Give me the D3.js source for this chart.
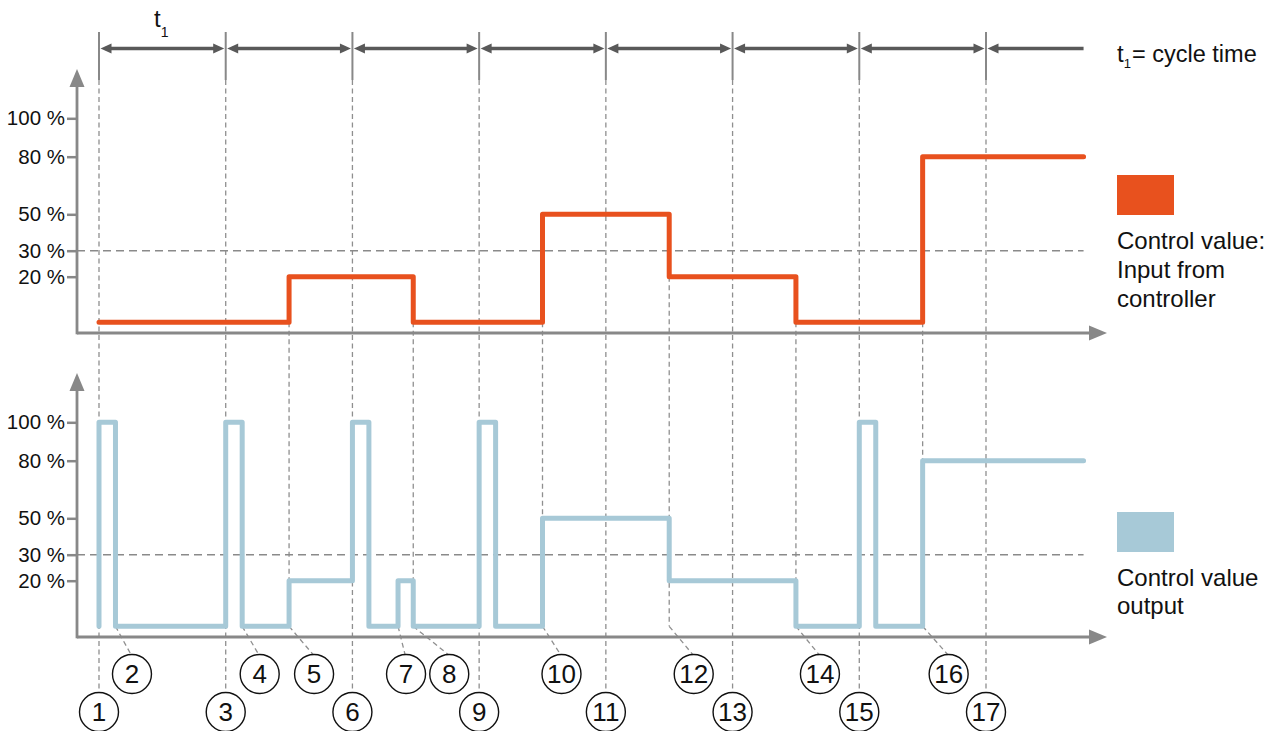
<!DOCTYPE html>
<html><head><meta charset="utf-8">
<script src="https://cdn.jsdelivr.net/npm/d3@7"></script>
<style>
body{margin:0;background:#fff}
svg{display:block}
text{font-family:"Liberation Sans",Arial,Helvetica,sans-serif;fill:#111}
</style>
</head><body>
<svg id="c" width="1274" height="731"></svg>
<script>
// ---------- data ----------
const cycles = [0, 1, 2, 3, 4, 5, 6, 7];
const tEnd = 7.77;
const controlT = [0, 1.5, 2.48, 3.5, 4.5, 5.5, 6.5, 7.77];
const controlV = [0, 20, 0, 50, 20, 0, 80, 80];
const outputT = [0, 0, 0.13, 1, 1.13, 1.5, 2, 2.13, 2.36, 2.48, 3, 3.13, 3.5, 4.5, 5.5, 6, 6.13, 6.5, 7.77];
const outputV = [0, 100, 0, 100, 0, 20, 100, 0, 20, 0, 100, 0, 50, 20, 0, 100, 0, 80, 80];
const yTicks = [20, 30, 50, 80, 100];
const thresholdV = 30;
const eventNum = [1, 2, 3, 4, 5, 6, 7, 8, 9, 10, 11, 12, 13, 14, 15, 16, 17];
const eventT = [0, 0.13, 1, 1.13, 1.5, 2, 2.36, 2.48, 3, 3.5, 4, 4.5, 5, 5.5, 6, 6.5, 7];
const eventRow = [2, 1, 2, 1, 1, 2, 1, 1, 2, 1, 2, 1, 2, 1, 2, 1, 2];
const legendControl = ["Control value:", "Input from", "controller"];
const legendOutput = ["Control value", "output"];
const cycleLabel = "t";
const cycleSub = "1";
const cycleText = "= cycle time";

// ---------- layout ----------
const ORANGE = "#E8511E", BLUE = "#A7C9D7", AXIS = "#888888", DARK = "#595959";
const svg = d3.select("#c");
const x = d3.scaleLinear().domain([0, 7]).range([99, 986]);
const yUp = d3.scaleLinear().domain([0, 20, 30, 50, 80, 100])
  .range([322.3, 276.7, 250.7, 214.3, 156.7, 118.3]);
const lowOffset = 304;
const yLo = d3.scaleLinear().domain(yUp.domain()).range(yUp.range().map(r => r + lowOffset));
const axisX = 77, upAxisY = 333, loAxisY = 637, arrowTipX = 1107;
const rowY = {1: 674, 2: 712}, R = 19.5;
const labelShift = [0, 16.5, 0, 17.5, 25, 0, 8, 36, 0, 19, 0, 24.5, 0, 24, 0, 26, 0];

// ---------- dashed guides ----------
const guides = svg.append("g").attr("stroke", "#8f8f8f").attr("stroke-width", 1.3)
  .attr("stroke-dasharray", "5,3.5").attr("fill", "none");
guides.selectAll("line.cyc").data(cycles).join("line").attr("class", "cyc")
  .attr("x1", d => x(d)).attr("x2", d => x(d))
  .attr("y1", 80).attr("y2", rowY[2] - R);
const changes = controlT.slice(1, -1).map((t, i) => ({t, lo: Math.min(controlV[i], controlV[i + 1])}));
guides.selectAll("line.chg").data(changes).join("line").attr("class", "chg")
  .attr("x1", d => x(d.t)).attr("x2", d => x(d.t))
  .attr("y1", d => yUp(d.lo)).attr("y2", yLo(0));
const events = eventNum.map((n, i) => ({n, t: eventT[i], row: eventRow[i], shift: labelShift[i]}));
guides.selectAll("line.diag").data(events.filter(e => e.row === 1)).join("line").attr("class", "diag")
  .attr("x1", d => x(d.t)).attr("y1", yLo(0))
  .attr("x2", d => x(d.t) + d.shift - 1).attr("y2", d => rowY[1] - R);

[yUp, yLo].forEach(ys => {
  svg.append("line").attr("x1", axisX).attr("x2", x(tEnd))
    .attr("y1", ys(thresholdV)).attr("y2", ys(thresholdV))
    .attr("stroke", "#8a8a8a").attr("stroke-width", 1.5).attr("stroke-dasharray", "8,5");
});

// ---------- axes ----------
function drawAxes(ys, baseY, tipY) {
  const g = svg.append("g").attr("transform", `translate(${axisX},0)`)
    .call(d3.axisLeft(ys).tickValues(yTicks).tickFormat(d => d + " %").tickSize(10).tickPadding(2));
  g.select(".domain").remove();
  g.selectAll(".tick line").attr("stroke", AXIS).attr("stroke-width", 2.5);
  g.selectAll(".tick text").attr("font-size", 20.5).attr("fill", "#111")
    .attr("font-family", '"Liberation Sans",Arial,sans-serif');
  svg.append("line").attr("x1", axisX).attr("x2", axisX).attr("y1", baseY + 1.3).attr("y2", tipY + 15)
    .attr("stroke", AXIS).attr("stroke-width", 2.8);
  svg.append("path").attr("d", `M${axisX},${tipY}L${axisX - 7.5},${tipY + 18}L${axisX + 7.5},${tipY + 18}Z`).attr("fill", AXIS);
  svg.append("line").attr("x1", axisX).attr("x2", arrowTipX - 15).attr("y1", baseY).attr("y2", baseY)
    .attr("stroke", AXIS).attr("stroke-width", 2.8);
  svg.append("path").attr("d", `M${arrowTipX},${baseY}L${arrowTipX - 18},${baseY - 7.5}L${arrowTipX - 18},${baseY + 7.5}Z`).attr("fill", AXIS);
}
drawAxes(yUp, upAxisY, 69);
drawAxes(yLo, loAxisY, 373);

// ---------- signals ----------
const ctrlData = controlT.map((t, i) => [t, controlV[i]]);
const outData = outputT.map((t, i) => [t, outputV[i]]);
svg.append("path").datum(outData)
  .attr("d", d3.line().x(d => x(d[0])).y(d => yLo(d[1])).curve(d3.curveStepAfter))
  .attr("fill", "none").attr("stroke", BLUE).attr("stroke-width", 5)
  .attr("stroke-linecap", "round").attr("stroke-linejoin", "round");
svg.append("path").datum(ctrlData)
  .attr("d", d3.line().x(d => x(d[0])).y(d => yUp(d[1])).curve(d3.curveStepAfter))
  .attr("fill", "none").attr("stroke", ORANGE).attr("stroke-width", 5)
  .attr("stroke-linecap", "round").attr("stroke-linejoin", "round");

// ---------- cycle-time arrows ----------
svg.selectAll("line.tick0").data(cycles).join("line").attr("class", "tick0")
  .attr("x1", d => x(d)).attr("x2", d => x(d)).attr("y1", 32).attr("y2", 80)
  .attr("stroke", AXIS).attr("stroke-width", 2);
const arrowY = 48.5, ah = 11, aw = 5;
const segs = cycles.slice(0, -1).map(c => [x(c) + 1.5, x(c + 1) - 1.5]);
segs.forEach(([a, b]) => {
  svg.append("line").attr("x1", a + 5).attr("x2", b - 5).attr("y1", arrowY).attr("y2", arrowY)
    .attr("stroke", DARK).attr("stroke-width", 3.5);
  svg.append("path").attr("d", `M${a},${arrowY}L${a + ah},${arrowY - aw}L${a + ah},${arrowY + aw}Z`).attr("fill", DARK);
  svg.append("path").attr("d", `M${b},${arrowY}L${b - ah},${arrowY - aw}L${b - ah},${arrowY + aw}Z`).attr("fill", DARK);
});
{
  const a = x(cycles[cycles.length - 1]) + 1.5;
  svg.append("line").attr("x1", a + 5).attr("x2", x(tEnd)).attr("y1", arrowY).attr("y2", arrowY)
    .attr("stroke", DARK).attr("stroke-width", 3.5);
  svg.append("path").attr("d", `M${a},${arrowY}L${a + ah},${arrowY - aw}L${a + ah},${arrowY + aw}Z`).attr("fill", DARK);
}
const tl = svg.append("text").attr("x", 154).attr("y", 27).attr("font-size", 24);
tl.append("tspan").text(cycleLabel);
tl.append("tspan").attr("font-size", 14).attr("dy", 10).text(cycleSub);

const tr = svg.append("text").attr("x", 1117).attr("y", 62).attr("font-size", 24);
tr.append("tspan").text(cycleLabel);
tr.append("tspan").attr("font-size", 13).attr("dy", 6).text(cycleSub);
svg.append("text").attr("x", 1132).attr("y", 62).attr("font-size", 23.5).text(cycleText);

// ---------- legend ----------
svg.append("rect").attr("x", 1117).attr("y", 175).attr("width", 57).attr("height", 40).attr("fill", ORANGE);
svg.append("rect").attr("x", 1117).attr("y", 512).attr("width", 57).attr("height", 40).attr("fill", BLUE);
svg.selectAll("text.lc").data(legendControl).join("text").attr("class", "lc")
  .attr("x", 1117).attr("y", (d, i) => 249 + i * 29).attr("font-size", 24).text(d => d);
svg.selectAll("text.lo").data(legendOutput).join("text").attr("class", "lo")
  .attr("x", 1117).attr("y", (d, i) => 586 + i * 28).attr("font-size", 24).text(d => d);

// ---------- event circles ----------
const eg = svg.selectAll("g.ev").data(events).join("g").attr("class", "ev")
  .attr("transform", d => `translate(${x(d.t) + d.shift},${rowY[d.row]})`);
eg.append("circle").attr("r", R).attr("fill", "#fff").attr("stroke", "#111").attr("stroke-width", 1.4);
eg.append("text").attr("text-anchor", "middle").attr("dy", "0.36em").attr("font-size", 26).text(d => d.n);
</script>
</body></html>
